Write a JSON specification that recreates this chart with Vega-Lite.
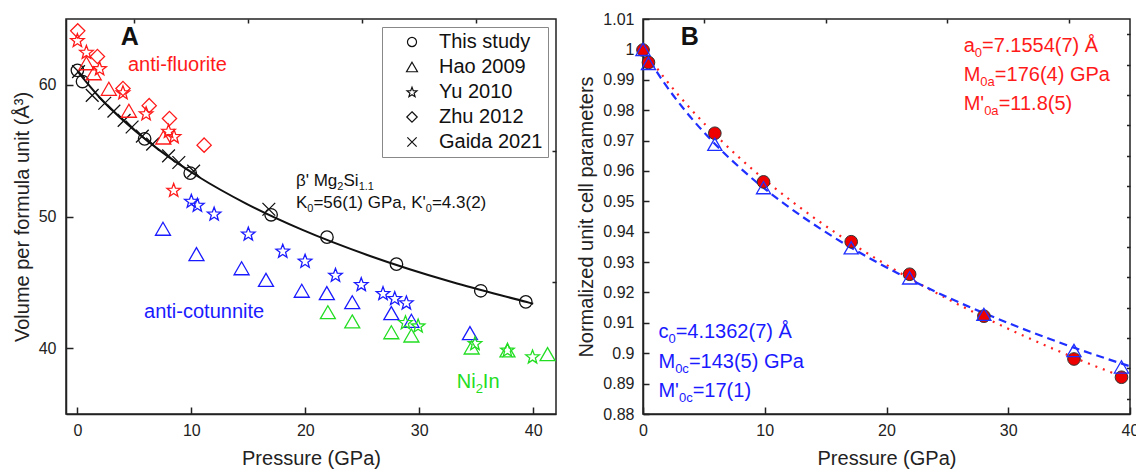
{
  "$schema": "https://vega.github.io/schema/vega-lite/v6.json",
  "padding": {"left": 11, "top": 10, "right": 0, "bottom": 0},
  "bounds": "flush",
  "spacing": 87,
  "config": {
    "font": "Liberation Sans",
    "view": {"stroke": "#222", "strokeWidth": 1.5},
    "axis": {
      "grid": false,
      "labelFlush": false,
      "domainColor": "#222", "domainWidth": 1.5,
      "tickColor": "#222", "tickWidth": 1.5,
      "labelColor": "#222", "labelFont": "Liberation Sans", "labelFontSize": 16,
      "titleColor": "#222", "titleFont": "Liberation Sans", "titleFontSize": 20, "titleFontWeight": "normal"
    }
  },
  "datasets": {
    "fitA": [
      {"P": 0, "V": 61.05}, {"P": 2.0, "V": 59.0}, {"P": 4.4, "V": 57.0}, {"P": 7.25, "V": 55.0},
      {"P": 10.66, "V": 53.0}, {"P": 14.76, "V": 51.0}, {"P": 19.7, "V": 49.0}, {"P": 25.68, "V": 47.0},
      {"P": 32.94, "V": 45.0}, {"P": 39.44, "V": 43.5}, {"P": 40.0, "V": 43.37}
    ],
    "ptsA": [
      {"study": "This study", "phase": "beta", "P": 0, "V": 61.1},
      {"study": "This study", "phase": "beta", "P": 0.45, "V": 60.25},
      {"study": "This study", "phase": "beta", "P": 5.9, "V": 55.9},
      {"study": "This study", "phase": "beta", "P": 9.9, "V": 53.3},
      {"study": "This study", "phase": "beta", "P": 17.0, "V": 50.13},
      {"study": "This study", "phase": "beta", "P": 21.9, "V": 48.43},
      {"study": "This study", "phase": "beta", "P": 28.0, "V": 46.38},
      {"study": "This study", "phase": "beta", "P": 35.4, "V": 44.36},
      {"study": "This study", "phase": "beta", "P": 39.35, "V": 43.52},
      {"study": "Gaida 2021", "phase": "beta", "P": 0.1, "V": 61.0},
      {"study": "Gaida 2021", "phase": "beta", "P": 1.3, "V": 59.2},
      {"study": "Gaida 2021", "phase": "beta", "P": 2.4, "V": 58.6},
      {"study": "Gaida 2021", "phase": "beta", "P": 3.2, "V": 58.0},
      {"study": "Gaida 2021", "phase": "beta", "P": 4.1, "V": 57.3},
      {"study": "Gaida 2021", "phase": "beta", "P": 4.8, "V": 56.8},
      {"study": "Gaida 2021", "phase": "beta", "P": 5.7, "V": 56.1},
      {"study": "Gaida 2021", "phase": "beta", "P": 6.6, "V": 55.5},
      {"study": "Gaida 2021", "phase": "beta", "P": 8.0, "V": 54.6},
      {"study": "Gaida 2021", "phase": "beta", "P": 8.9, "V": 54.1},
      {"study": "Gaida 2021", "phase": "beta", "P": 10.2, "V": 53.45},
      {"study": "Gaida 2021", "phase": "beta", "P": 16.8, "V": 50.55},
      {"study": "Hao 2009", "phase": "anti-fluorite", "P": 0.79, "V": 61.64},
      {"study": "Hao 2009", "phase": "anti-fluorite", "P": 1.43, "V": 60.88},
      {"study": "Hao 2009", "phase": "anti-fluorite", "P": 2.76, "V": 59.7},
      {"study": "Hao 2009", "phase": "anti-fluorite", "P": 4.52, "V": 58.03},
      {"study": "Hao 2009", "phase": "anti-fluorite", "P": 7.54, "V": 56.0},
      {"study": "Hao 2009", "phase": "anti-cotunnite", "P": 7.51, "V": 49.07},
      {"study": "Hao 2009", "phase": "anti-cotunnite", "P": 10.45, "V": 47.14},
      {"study": "Hao 2009", "phase": "anti-cotunnite", "P": 14.41, "V": 46.07},
      {"study": "Hao 2009", "phase": "anti-cotunnite", "P": 16.55, "V": 45.19},
      {"study": "Hao 2009", "phase": "anti-cotunnite", "P": 19.69, "V": 44.36},
      {"study": "Hao 2009", "phase": "anti-cotunnite", "P": 21.89, "V": 44.18},
      {"study": "Hao 2009", "phase": "anti-cotunnite", "P": 24.12, "V": 43.49},
      {"study": "Hao 2009", "phase": "anti-cotunnite", "P": 27.55, "V": 42.66},
      {"study": "Hao 2009", "phase": "anti-cotunnite", "P": 29.31, "V": 42.08},
      {"study": "Hao 2009", "phase": "anti-cotunnite", "P": 34.45, "V": 41.14},
      {"study": "Hao 2009", "phase": "Ni2In", "P": 21.98, "V": 42.73},
      {"study": "Hao 2009", "phase": "Ni2In", "P": 24.12, "V": 42.03},
      {"study": "Hao 2009", "phase": "Ni2In", "P": 27.55, "V": 41.21},
      {"study": "Hao 2009", "phase": "Ni2In", "P": 29.31, "V": 40.96},
      {"study": "Hao 2009", "phase": "Ni2In", "P": 34.6, "V": 40.05},
      {"study": "Hao 2009", "phase": "Ni2In", "P": 37.74, "V": 39.83},
      {"study": "Hao 2009", "phase": "Ni2In", "P": 41.26, "V": 39.55},
      {"study": "Yu 2010", "phase": "anti-fluorite", "P": 0.0, "V": 63.4},
      {"study": "Yu 2010", "phase": "anti-fluorite", "P": 0.79, "V": 62.5},
      {"study": "Yu 2010", "phase": "anti-fluorite", "P": 1.95, "V": 61.26},
      {"study": "Yu 2010", "phase": "anti-fluorite", "P": 4.0, "V": 59.43},
      {"study": "Yu 2010", "phase": "anti-fluorite", "P": 6.03, "V": 57.84},
      {"study": "Yu 2010", "phase": "anti-fluorite", "P": 8.0, "V": 56.5},
      {"study": "Yu 2010", "phase": "anti-fluorite", "P": 8.48, "V": 56.1},
      {"study": "Yu 2010", "phase": "anti-fluorite", "P": 8.45, "V": 52.02},
      {"study": "Yu 2010", "phase": "anti-cotunnite", "P": 10.0, "V": 51.19},
      {"study": "Yu 2010", "phase": "anti-cotunnite", "P": 10.53, "V": 50.89},
      {"study": "Yu 2010", "phase": "anti-cotunnite", "P": 12.0, "V": 50.22},
      {"study": "Yu 2010", "phase": "anti-cotunnite", "P": 15.0, "V": 48.7},
      {"study": "Yu 2010", "phase": "anti-cotunnite", "P": 18.02, "V": 47.4},
      {"study": "Yu 2010", "phase": "anti-cotunnite", "P": 19.98, "V": 46.64},
      {"study": "Yu 2010", "phase": "anti-cotunnite", "P": 22.65, "V": 45.57},
      {"study": "Yu 2010", "phase": "anti-cotunnite", "P": 24.91, "V": 44.86},
      {"study": "Yu 2010", "phase": "anti-cotunnite", "P": 26.82, "V": 44.18},
      {"study": "Yu 2010", "phase": "anti-cotunnite", "P": 27.85, "V": 43.8},
      {"study": "Yu 2010", "phase": "anti-cotunnite", "P": 28.87, "V": 43.47},
      {"study": "Yu 2010", "phase": "Ni2In", "P": 28.79, "V": 41.97},
      {"study": "Yu 2010", "phase": "Ni2In", "P": 29.9, "V": 41.72},
      {"study": "Yu 2010", "phase": "Ni2In", "P": 34.89, "V": 40.38},
      {"study": "Yu 2010", "phase": "Ni2In", "P": 37.74, "V": 39.88},
      {"study": "Yu 2010", "phase": "Ni2In", "P": 39.94, "V": 39.37},
      {"study": "Zhu 2012", "phase": "anti-fluorite", "P": 0.03, "V": 64.1},
      {"study": "Zhu 2012", "phase": "anti-fluorite", "P": 1.76, "V": 62.15},
      {"study": "Zhu 2012", "phase": "anti-fluorite", "P": 4.0, "V": 59.72},
      {"study": "Zhu 2012", "phase": "anti-fluorite", "P": 6.3, "V": 58.42},
      {"study": "Zhu 2012", "phase": "anti-fluorite", "P": 8.08, "V": 57.44},
      {"study": "Zhu 2012", "phase": "anti-fluorite", "P": 11.12, "V": 55.42}
    ],
    "textA": [
      {"kind": "panel", "phase": "beta", "t": "A", "P": 3.8, "V": 63.0},
      {"kind": "big", "phase": "anti-fluorite", "t": "anti-fluorite", "P": 4.44, "V": 61.05},
      {"kind": "big", "phase": "anti-cotunnite", "t": "anti-cotunnite", "P": 5.85, "V": 42.27},
      {"kind": "big", "phase": "Ni2In", "t": "Ni", "P": 33.29, "V": 37.0},
      {"kind": "bigsub", "phase": "Ni2In", "t": "2", "P": 34.95, "V": 37.0},
      {"kind": "big", "phase": "Ni2In", "t": "In", "P": 35.58, "V": 37.0},
      {"kind": "small", "phase": "beta", "t": "β' Mg", "P": 19.18, "V": 52.32},
      {"kind": "smallsub", "phase": "beta", "t": "2", "P": 22.81, "V": 52.32},
      {"kind": "small", "phase": "beta", "t": "Si", "P": 23.35, "V": 52.32},
      {"kind": "smallsub", "phase": "beta", "t": "1.1", "P": 24.68, "V": 52.32},
      {"kind": "small", "phase": "beta", "t": "K", "P": 19.18, "V": 50.62},
      {"kind": "smallsub", "phase": "beta", "t": "0", "P": 20.18, "V": 50.62},
      {"kind": "small", "phase": "beta", "t": "=56(1) GPa, K'", "P": 20.71, "V": 50.62},
      {"kind": "smallsub", "phase": "beta", "t": "0", "P": 30.58, "V": 50.62},
      {"kind": "small", "phase": "beta", "t": "=4.3(2)", "P": 31.11, "V": 50.62}
    ],
    "ptsB": [
      {"param": "a", "P": 0, "R": 0.9998}, {"param": "a", "P": 0.45, "R": 0.9957},
      {"param": "a", "P": 5.9, "R": 0.9724}, {"param": "a", "P": 9.9, "R": 0.9564},
      {"param": "a", "P": 17.1, "R": 0.9367}, {"param": "a", "P": 21.9, "R": 0.926},
      {"param": "a", "P": 28.0, "R": 0.9122}, {"param": "a", "P": 35.4, "R": 0.8981},
      {"param": "a", "P": 39.3, "R": 0.8921},
      {"param": "c", "P": 0, "R": 1.0}, {"param": "c", "P": 0.45, "R": 0.9954},
      {"param": "c", "P": 5.9, "R": 0.9688}, {"param": "c", "P": 9.9, "R": 0.9545},
      {"param": "c", "P": 17.1, "R": 0.9347}, {"param": "c", "P": 21.9, "R": 0.9248},
      {"param": "c", "P": 28.0, "R": 0.9128}, {"param": "c", "P": 35.4, "R": 0.9009},
      {"param": "c", "P": 39.3, "R": 0.8955}
    ],
    "fitB": [
      {"param": "a", "P": 0, "R": 1.0}, {"param": "a", "P": 1.876, "R": 0.99},
      {"param": "a", "P": 4.006, "R": 0.98}, {"param": "a", "P": 6.416, "R": 0.97},
      {"param": "a", "P": 9.14, "R": 0.96}, {"param": "a", "P": 12.22, "R": 0.95},
      {"param": "a", "P": 15.69, "R": 0.94}, {"param": "a", "P": 19.61, "R": 0.93},
      {"param": "a", "P": 24.01, "R": 0.92}, {"param": "a", "P": 28.97, "R": 0.91},
      {"param": "a", "P": 34.55, "R": 0.9}, {"param": "a", "P": 40.0, "R": 0.8913},
      {"param": "c", "P": 0, "R": 1.0}, {"param": "c", "P": 1.565, "R": 0.99},
      {"param": "c", "P": 3.43, "R": 0.98}, {"param": "c", "P": 5.64, "R": 0.97},
      {"param": "c", "P": 8.251, "R": 0.96}, {"param": "c", "P": 11.33, "R": 0.95},
      {"param": "c", "P": 14.947, "R": 0.94}, {"param": "c", "P": 19.19, "R": 0.93},
      {"param": "c", "P": 24.157, "R": 0.92}, {"param": "c", "P": 29.956, "R": 0.91},
      {"param": "c", "P": 36.73, "R": 0.9}, {"param": "c", "P": 40.0, "R": 0.8957}
    ],
    "textB": [
      {"kind": "panel", "param": "k", "t": "B", "P": 3.1, "R": 1.00143},
      {"kind": "main", "param": "a", "t": "a", "P": 26.34, "R": 0.99922},
      {"kind": "sub", "param": "a", "t": "0", "P": 27.25, "R": 0.99922},
      {"kind": "main", "param": "a", "t": "=7.1554(7) Å", "P": 27.84, "R": 0.99922},
      {"kind": "main", "param": "a", "t": "M", "P": 26.34, "R": 0.98966},
      {"kind": "sub", "param": "a", "t": "0a", "P": 27.71, "R": 0.98966},
      {"kind": "main", "param": "a", "t": "=176(4) GPa", "P": 28.9, "R": 0.98966},
      {"kind": "main", "param": "a", "t": "M'", "P": 26.34, "R": 0.98011},
      {"kind": "sub", "param": "a", "t": "0a", "P": 28.02, "R": 0.98011},
      {"kind": "main", "param": "a", "t": "=11.8(5)", "P": 29.21, "R": 0.98011},
      {"kind": "main", "param": "c", "t": "c", "P": 1.27, "R": 0.90506},
      {"kind": "sub", "param": "c", "t": "0", "P": 2.09, "R": 0.90506},
      {"kind": "main", "param": "c", "t": "=4.1362(7) Å", "P": 2.68, "R": 0.90506},
      {"kind": "main", "param": "c", "t": "M", "P": 1.27, "R": 0.89517},
      {"kind": "sub", "param": "c", "t": "0c", "P": 2.64, "R": 0.89517},
      {"kind": "main", "param": "c", "t": "=143(5) GPa", "P": 3.77, "R": 0.89517},
      {"kind": "main", "param": "c", "t": "M'", "P": 1.27, "R": 0.88561},
      {"kind": "sub", "param": "c", "t": "0c", "P": 2.95, "R": 0.88561},
      {"kind": "main", "param": "c", "t": "=17(1)", "P": 4.08, "R": 0.88561}
    ]
  },
  "resolve": {"scale": {"color": "independent", "shape": "independent"}},
  "hconcat": [
    {
      "width": 490,
      "height": 395,
      "resolve": {"axis": {"x": "independent", "y": "independent"}},
      "layer": [
        {
          "data": {"name": "fitA"},
          "mark": {"type": "line", "color": "#111", "strokeWidth": 2, "interpolate": "monotone"},
          "encoding": {
            "x": {"field": "P", "type": "quantitative", "scale": {"domain": [-1, 42], "nice": false, "zero": false},
                  "axis": {"values": [0, 10, 20, 30, 40], "format": "d", "tickSize": -7, "labelPadding": 15, "title": "Pressure (GPa)", "titlePadding": 10}},
            "y": {"field": "V", "type": "quantitative", "scale": {"domain": [35, 65], "nice": false, "zero": false},
                  "axis": {"values": [40, 50, 60], "format": "d", "tickSize": -7, "labelPadding": 17, "title": "Volume per formula unit (Å³)", "titlePadding": 6}}
          }
        },
        {
          "data": {"name": "ptsA"},
          "mark": {"type": "point", "filled": false, "strokeWidth": 1.3, "size": 225, "opacity": 1},
          "encoding": {
            "x": {"field": "P", "type": "quantitative",
                  "axis": {"values": [5, 15, 25, 35], "labels": false, "domain": false, "tickSize": -4, "title": null}},
            "y": {"field": "V", "type": "quantitative",
                  "axis": {"values": [45, 55], "labels": false, "domain": false, "tickSize": -4, "title": null}},
            "shape": {
              "field": "study", "type": "nominal",
              "scale": {
                "domain": ["This study", "Hao 2009", "Yu 2010", "Zhu 2012", "Gaida 2021"],
                "range": [
                  "M0.83,0A0.83,0.83,0,1,1,-0.83,0A0.83,0.83,0,1,1,0.83,0Z",
                  "M0,-0.866L1,0.866L-1,0.866Z",
                  "M0,-0.86L0.235,-0.233L0.904,-0.204L0.38,0.214L0.559,0.859L0,0.49L-0.559,0.859L-0.38,0.214L-0.904,-0.204L-0.235,-0.233Z",
                  "M0,-0.95L0.95,0L0,0.95L-0.95,0Z",
                  "M-0.85,-0.85L0.85,0.85M0.85,-0.85L-0.85,0.85"
                ]
              },
              "legend": {
                "title": null, "orient": "top-right", "offset": 8, "padding": 5,
                "strokeColor": "#888", "fillColor": "white",
                "labelFontSize": 20, "labelFont": "Liberation Sans", "labelColor": "#111", "labelLimit": 300,
                "symbolSize": 120, "symbolStrokeWidth": 1.2, "symbolOffset": 15, "labelOffset": 17, "rowPadding": 5,
                "symbolStrokeColor": "#111", "symbolFillColor": "transparent",
                "encode": {"symbols": {"update": {"stroke": {"value": "#111"}, "fill": {"value": "transparent"}, "strokeWidth": {"value": 1.2}, "opacity": {"value": 1}}}}
              }
            },
            "color": {
              "field": "phase", "type": "nominal",
              "scale": {"domain": ["anti-fluorite", "anti-cotunnite", "Ni2In", "beta"], "range": ["#ff1a1a", "#1a1aff", "#22dd22", "#111111"]},
              "legend": null
            }
          }
        },
        {
          "data": {"name": "textA"},
          "transform": [{"filter": "datum.kind === 'panel'"}],
          "mark": {"type": "text", "align": "left", "baseline": "alphabetic", "font": "Liberation Sans", "fontSize": 25, "fontWeight": "bold"},
          "encoding": {
            "x": {"field": "P", "type": "quantitative", "axis": null},
            "y": {"field": "V", "type": "quantitative", "axis": null},
            "text": {"field": "t"},
            "color": {"field": "phase", "type": "nominal", "legend": null}
          }
        },
        {
          "data": {"name": "textA"},
          "transform": [{"filter": "datum.kind === 'big'"}],
          "mark": {"type": "text", "align": "left", "baseline": "alphabetic", "font": "Liberation Sans", "fontSize": 20},
          "encoding": {
            "x": {"field": "P", "type": "quantitative", "axis": null},
            "y": {"field": "V", "type": "quantitative", "axis": null},
            "text": {"field": "t"},
            "color": {"field": "phase", "type": "nominal", "legend": null}
          }
        },
        {
          "data": {"name": "textA"},
          "transform": [{"filter": "datum.kind === 'bigsub'"}],
          "mark": {"type": "text", "align": "left", "baseline": "alphabetic", "font": "Liberation Sans", "fontSize": 13, "dy": 5},
          "encoding": {
            "x": {"field": "P", "type": "quantitative", "axis": null},
            "y": {"field": "V", "type": "quantitative", "axis": null},
            "text": {"field": "t"},
            "color": {"field": "phase", "type": "nominal", "legend": null}
          }
        },
        {
          "data": {"name": "textA"},
          "transform": [{"filter": "datum.kind === 'small'"}],
          "mark": {"type": "text", "align": "left", "baseline": "alphabetic", "font": "Liberation Sans", "fontSize": 17},
          "encoding": {
            "x": {"field": "P", "type": "quantitative", "axis": null},
            "y": {"field": "V", "type": "quantitative", "axis": null},
            "text": {"field": "t"},
            "color": {"field": "phase", "type": "nominal", "legend": null}
          }
        },
        {
          "data": {"name": "textA"},
          "transform": [{"filter": "datum.kind === 'smallsub'"}],
          "mark": {"type": "text", "align": "left", "baseline": "alphabetic", "font": "Liberation Sans", "fontSize": 11, "dy": 4},
          "encoding": {
            "x": {"field": "P", "type": "quantitative", "axis": null},
            "y": {"field": "V", "type": "quantitative", "axis": null},
            "text": {"field": "t"},
            "color": {"field": "phase", "type": "nominal", "legend": null}
          }
        }
      ]
    },
    {
      "width": 487,
      "height": 395,
      "resolve": {"axis": {"x": "independent", "y": "independent"}},
      "layer": [
        {
          "data": {"name": "fitB"},
          "transform": [{"filter": "datum.param === 'a'"}],
          "mark": {"type": "line", "color": "#ff2020", "strokeWidth": 2.2, "strokeDash": [2, 6], "interpolate": "monotone"},
          "encoding": {
            "x": {"field": "P", "type": "quantitative", "scale": {"domain": [0, 40], "nice": false},
                  "axis": {"values": [0, 10, 20, 30, 40], "format": "d", "tickSize": -7, "labelPadding": 15, "labelFlush": false, "title": "Pressure (GPa)", "titlePadding": 10}},
            "y": {"field": "R", "type": "quantitative", "scale": {"domain": [0.88, 1.01], "nice": false, "zero": false},
                  "axis": {"values": [0.88, 0.89, 0.9, 0.91, 0.92, 0.93, 0.94, 0.95, 0.96, 0.97, 0.98, 0.99, 1, 1.01], "format": "~g", "tickSize": -6, "labelPadding": 15, "labelFlush": false, "title": "Normalized unit cell parameters", "titlePadding": 6}}
          }
        },
        {
          "data": {"name": "fitB"},
          "transform": [{"filter": "datum.param === 'c'"}],
          "mark": {"type": "line", "color": "#1f2fff", "strokeWidth": 2.2, "strokeDash": [8, 5], "interpolate": "monotone"},
          "encoding": {
            "x": {"field": "P", "type": "quantitative",
                  "axis": {"values": [5, 15, 25, 35], "labels": false, "domain": false, "tickSize": -4, "title": null}},
            "y": {"field": "R", "type": "quantitative",
                  "axis": {"values": [0.885, 0.895, 0.905, 0.915, 0.925, 0.935, 0.945, 0.955, 0.965, 0.975, 0.985, 0.995, 1.005], "labels": false, "domain": false, "tickSize": -3.5, "title": null}}
          }
        },
        {
          "data": {"name": "ptsB"},
          "transform": [{"filter": "datum.param === 'a'"}],
          "mark": {"type": "point", "shape": "circle", "filled": true, "fill": "#ee0000", "stroke": "#333", "strokeWidth": 1, "size": 160, "opacity": 1},
          "encoding": {
            "x": {"field": "P", "type": "quantitative", "axis": null},
            "y": {"field": "R", "type": "quantitative", "axis": null}
          }
        },
        {
          "data": {"name": "ptsB"},
          "transform": [{"filter": "datum.param === 'c'"}],
          "mark": {"type": "point", "shape": "M0,-0.866L1,0.866L-1,0.866Z", "filled": false, "color": "#1f2fff", "strokeWidth": 1.3, "size": 200, "opacity": 1},
          "encoding": {
            "x": {"field": "P", "type": "quantitative", "axis": null},
            "y": {"field": "R", "type": "quantitative", "axis": null}
          }
        },
        {
          "data": {"name": "textB"},
          "transform": [{"filter": "datum.kind === 'panel'"}],
          "mark": {"type": "text", "align": "left", "baseline": "alphabetic", "font": "Liberation Sans", "fontSize": 25, "fontWeight": "bold", "color": "#111"},
          "encoding": {
            "x": {"field": "P", "type": "quantitative", "axis": null},
            "y": {"field": "R", "type": "quantitative", "axis": null},
            "text": {"field": "t"}
          }
        },
        {
          "data": {"name": "textB"},
          "transform": [{"filter": "datum.kind === 'main'"}],
          "mark": {"type": "text", "align": "left", "baseline": "alphabetic", "font": "Liberation Sans", "fontSize": 20},
          "encoding": {
            "x": {"field": "P", "type": "quantitative", "axis": null},
            "y": {"field": "R", "type": "quantitative", "axis": null},
            "text": {"field": "t"},
            "color": {"field": "param", "type": "nominal", "scale": {"domain": ["a", "c"], "range": ["#ff1a1a", "#1a1aff"]}, "legend": null}
          }
        },
        {
          "data": {"name": "textB"},
          "transform": [{"filter": "datum.kind === 'sub'"}],
          "mark": {"type": "text", "align": "left", "baseline": "alphabetic", "font": "Liberation Sans", "fontSize": 13, "dy": 5},
          "encoding": {
            "x": {"field": "P", "type": "quantitative", "axis": null},
            "y": {"field": "R", "type": "quantitative", "axis": null},
            "text": {"field": "t"},
            "color": {"field": "param", "type": "nominal", "legend": null}
          }
        }
      ]
    }
  ]
}
